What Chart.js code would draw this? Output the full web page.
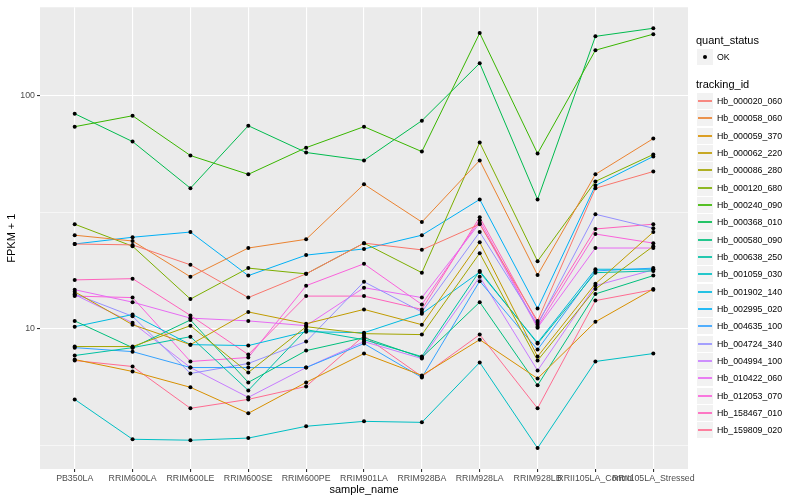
<!DOCTYPE html>
<html>
<head>
<meta charset="utf-8">
<script src="https://cdn.jsdelivr.net/npm/chart.js@4.4.1/dist/chart.umd.min.js"></script>
<style>
  html, body { margin: 0; padding: 0; background: #fff; }
  #wrap { position: relative; width: 800px; height: 500px; }
  #legend { position: absolute; left: 0; top: 0; width: 800px; height: 500px; pointer-events: none;
            font-family: "Liberation Sans", Arial, sans-serif; color: #000; }
  .ttl { position: absolute; left: 696px; font-size: 11px; line-height: 13px; }
  .key { position: absolute; left: 697px; width: 16px; height: 16px; background: #F2F2F2; }
  .key .ln { position: absolute; left: 1px; right: 1px; top: 7px; height: 2px; opacity: 0.85; }
  .key .dot { position: absolute; left: 6px; top: 6px; width: 4px; height: 4px; border-radius: 50%; background: #000; }
  .lab { position: absolute; left: 717px; font-size: 8.8px; line-height: 10px; white-space: nowrap; }
</style>
</head>
<body>
<div id="wrap">
  <canvas id="chart" width="800" height="500"></canvas>
  <div id="legend"></div>
</div>
<script>
// categories on the x axis
const samples = ["PB350LA", "RRIM600LA", "RRIM600LE", "RRIM600SE", "RRIM600PE", "RRIM901LA",
                 "RRIM928BA", "RRIM928LA", "RRIM928LB", "RRII105LA_Control", "RRII105LA_Stressed"];

const trackingIds = ["Hb_000020_060", "Hb_000058_060", "Hb_000059_370", "Hb_000062_220", "Hb_000086_280",
                     "Hb_000120_680", "Hb_000240_090", "Hb_000368_010", "Hb_000580_090", "Hb_000638_250",
                     "Hb_001059_030", "Hb_001902_140", "Hb_002995_020", "Hb_004635_100", "Hb_004724_340",
                     "Hb_004994_100", "Hb_010422_060", "Hb_012053_070", "Hb_158467_010", "Hb_159809_020"];

const lineColors = ["#F8766D", "#EA8331", "#D89000", "#C09B00", "#A3A500", "#7CAE00", "#39B600", "#00BB4E",
                    "#00BF7D", "#00C1A3", "#00BFC4", "#00BAE0", "#00B0F6", "#35A2FF", "#9590FF", "#C77CFF",
                    "#E76BF3", "#FA62DB", "#FF62BC", "#FF6C91"];

// log axis breaks (minor ones get no label)
const yTicks = [3.1623, 10, 31.623, 100];
const yTickLabels = ["", "10", "", "100"];

// FPKM + 1, one value per sample
const fpkm_000020_060 = [23.1, 22.9, 18.8, 13.6, 17.2, 23.3, 21.8, 28.1, 10.8, 40.1, 47.3];
const fpkm_000058_060 = [25.2, 23.8, 16.7, 22.2, 24.2, 41.7, 28.7, 52.8, 17.0, 46.0, 65.5];
const fpkm_000059_370 = [7.37, 6.55, 5.60, 4.33, 5.88, 7.82, 6.30, 8.97, 6.11, 10.7, 14.8];
const fpkm_000062_220 = [14.4, 10.4, 8.54, 11.8, 10.5, 12.1, 10.4, 23.5, 7.59, 15.6, 26.0];
const fpkm_000086_280 = [8.38, 8.38, 10.3, 6.48, 10.2, 9.52, 9.43, 21.1, 7.30, 14.8, 22.6];
const fpkm_000120_680 = [28.1, 22.6, 13.4, 18.2, 17.2, 23.3, 17.4, 63.0, 19.5, 42.9, 56.0];
const fpkm_000240_090 = [73.7, 82.1, 55.4, 46.0, 59.9, 73.7, 57.6, 186, 56.5, 157, 184];
const fpkm_000368_010 = [83.8, 63.6, 40.1, 74.4, 57.1, 52.8, 78.2, 138, 35.9, 180, 195];
const fpkm_000580_090 = [10.8, 8.29, 10.9, 5.88, 8.05, 9.15, 7.52, 13.0, 5.71, 14.1, 16.9];
const fpkm_000638_250 = [7.67, 8.29, 9.24, 5.43, 9.90, 8.97, 7.59, 17.7, 8.63, 17.4, 17.7];
const fpkm_001059_030 = [4.97, 3.35, 3.32, 3.39, 3.81, 4.00, 3.96, 7.16, 3.07, 7.23, 7.82];
const fpkm_001902_140 = [10.2, 11.5, 8.54, 8.46, 9.71, 9.61, 11.6, 17.5, 8.71, 18.0, 18.0];
const fpkm_002995_020 = [23.1, 24.7, 26.0, 16.9, 20.7, 22.0, 25.2, 35.9, 12.2, 41.2, 54.9];
const fpkm_004635_100 = [8.29, 7.97, 6.81, 6.81, 6.81, 8.63, 6.17, 16.0, 8.13, 17.7, 18.2];
const fpkm_004724_340 = [14.1, 11.3, 6.42, 7.09, 8.80, 15.9, 11.8, 26.0, 10.4, 31.0, 27.0];
const fpkm_004994_100 = [14.0, 10.6, 6.81, 5.07, 6.81, 8.80, 7.44, 16.7, 6.61, 15.3, 17.9];
const fpkm_010422_060 = [14.7, 13.0, 11.1, 10.8, 10.3, 15.0, 13.6, 28.4, 10.1, 22.2, 22.2];
const fpkm_012053_070 = [13.8, 13.6, 7.23, 7.52, 15.3, 19.0, 12.7, 29.2, 10.2, 25.5, 23.3];
const fpkm_158467_010 = [16.2, 16.4, 11.4, 7.74, 13.8, 13.8, 12.1, 30.1, 10.6, 26.8, 28.1];
const fpkm_159809_020 = [7.30, 6.88, 4.55, 4.97, 5.65, 9.33, 6.23, 9.43, 4.55, 13.2, 14.7];

const seriesValues = [fpkm_000020_060, fpkm_000058_060, fpkm_000059_370, fpkm_000062_220, fpkm_000086_280,
                      fpkm_000120_680, fpkm_000240_090, fpkm_000368_010, fpkm_000580_090, fpkm_000638_250,
                      fpkm_001059_030, fpkm_001902_140, fpkm_002995_020, fpkm_004635_100, fpkm_004724_340,
                      fpkm_004994_100, fpkm_010422_060, fpkm_012053_070, fpkm_158467_010, fpkm_159809_020];

const FONT = "'Liberation Sans', Arial, sans-serif";

// grey panel behind the grid, like ggplot
const panelBg = {
  id: "panelBg",
  beforeDraw(chart) {
    const { ctx, chartArea: a } = chart;
    ctx.save();
    ctx.fillStyle = "#EBEBEB";
    ctx.fillRect(a.left, a.top, a.right - a.left, a.bottom - a.top);
    ctx.restore();
  }
};

const toPoints = (vals) => vals.map((v, i) => ({ x: i, y: v }));

const datasets = [];
seriesValues.forEach((vals, k) => {
  datasets.push({
    label: trackingIds[k],
    data: toPoints(vals),
    borderColor: lineColors[k],
    borderWidth: 1,
    pointRadius: 0,
    tension: 0,
    order: 2
  });
});
// points drawn on top of all lines
seriesValues.forEach((vals) => {
  datasets.push({
    data: toPoints(vals),
    showLine: false,
    pointRadius: 2,
    pointBackgroundColor: "#000",
    pointBorderWidth: 0,
    order: 1
  });
});

new Chart(document.getElementById("chart"), {
  type: "line",
  data: { datasets },
  plugins: [panelBg],
  options: {
    responsive: false,
    animation: false,
    layout: { padding: { left: 0, right: 112, top: 5, bottom: 0 } },
    plugins: { legend: { display: false }, tooltip: { enabled: false } },
    scales: {
      x: {
        type: "linear",
        min: -0.6,
        max: samples.length - 0.4,
        afterBuildTicks: (s) => { s.ticks = samples.map((_, i) => ({ value: i })); },
        afterFit: (s) => { s.height = 31; },
        ticks: {
          callback: (v, i) => samples[i],
          autoSkip: false, maxRotation: 0, minRotation: 0,
          color: "#4D4D4D", padding: 1,
          font: { family: FONT, size: 8.8 }
        },
        grid: { color: "#FFFFFF", lineWidth: 1.1, tickColor: "#333333", tickLength: 3 },
        border: { display: false },
        title: { display: true, text: "sample_name", color: "#000",
                 padding: { top: 0, bottom: 3 }, font: { family: FONT, size: 11 } }
      },
      y: {
        type: "logarithmic",
        bounds: "data",
        min: 2.497,
        max: 240,
        afterBuildTicks: (s) => { s.ticks = yTicks.map((v) => ({ value: v })); },
        afterFit: (s) => { s.width = 40; },
        ticks: {
          callback: (v, i) => yTickLabels[i],
          color: "#4D4D4D", padding: 2,
          font: { family: FONT, size: 8.8 }
        },
        grid: {
          color: "#FFFFFF",
          lineWidth: (c) => (yTickLabels[c.index] ? 1.1 : 0.55),
          tickColor: (c) => (yTickLabels[c.index] ? "#333333" : "rgba(0,0,0,0)"),
          tickLength: 3
        },
        border: { display: false },
        title: { display: true, text: "FPKM + 1", color: "#000",
                 padding: { top: 5, bottom: 0 }, font: { family: FONT, size: 11 } }
      }
    }
  }
});

// ggplot style legend on the right
const leg = document.getElementById("legend");
function add(cls, top, html) {
  const d = document.createElement("div");
  d.className = cls;
  d.style.top = top + "px";
  d.innerHTML = html;
  leg.appendChild(d);
  return d;
}
add("ttl", 34, "quant_status");
add("key", 49, '<div class="dot"></div>');
add("lab", 52, "OK");
add("ttl", 78, "tracking_id");
trackingIds.forEach((id, k) => {
  const top = Math.round(93 + k * 17.33);
  add("key", top, '<div class="ln" style="background:' + lineColors[k] + '"></div>');
  add("lab", top + 3, id);
});
</script>
</body>
</html>
